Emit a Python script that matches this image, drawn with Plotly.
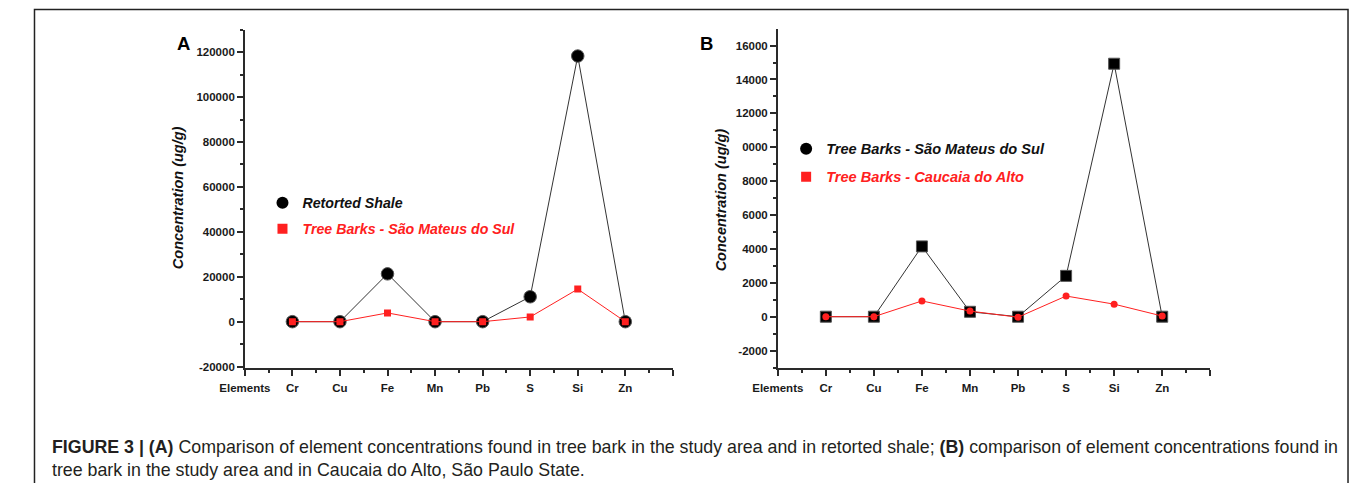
import plotly.graph_objects as go

# page body has an 8px margin: draw a figure that fits inside the window
OFF = 8
W, H = 1357 - 2 * OFF, 491 - 2 * OFF

elements = ["Cr", "Cu", "Fe", "Mn", "Pb", "S", "Si", "Zn"]
tick_labels = ["Elements"] + elements + [""]

# Panel A
a_retorted_shale = [0, 0, 21300, 0, 0, 11100, 118300, 0]
a_tree_barks_sms = [0, 0, 3900, 0, 0, 2100, 14500, 0]
# Panel B
b_tree_barks_sms = [0, 0, 4150, 290, 0, 2410, 14930, 0]
b_tree_barks_caucaia = [0, 0, 930, 330, -30, 1220, 740, 40]

a_yticks = [-20000, 0, 20000, 40000, 60000, 80000, 100000, 120000]
a_yticktext = ["-20000", "0", "20000", "40000", "60000", "80000", "100000", "120000"]
b_yticks = [-2000, 0, 2000, 4000, 6000, 8000, 10000, 12000, 14000, 16000]
b_yticktext = ["-2000", "0", "2000", "4000", "6000", "8000", "0000", "12000", "14000", "16000"]

xpos = list(range(1, len(elements) + 1))

FONT = "Liberation Sans, Arial, sans-serif"
AX = "#2a2a2a"
RED = "#ff2020"

def px_x(x):
    return (x - OFF) / W

def px_y(y):
    return 1 - (y - OFF) / H

fig = go.Figure()

# Panel A data
fig.add_trace(go.Scatter(x=xpos, y=a_retorted_shale, mode="lines+markers",
                         line=dict(color="#333333", width=1),
                         marker=dict(symbol="circle", size=12.5, color="#000000",
                                     line=dict(color="#555555", width=1)),
                         showlegend=False, xaxis="x", yaxis="y"))
fig.add_trace(go.Scatter(x=xpos, y=a_tree_barks_sms, mode="lines+markers",
                         line=dict(color=RED, width=1),
                         marker=dict(symbol="square", size=7, color=RED),
                         showlegend=False, xaxis="x", yaxis="y"))
# Panel B data
fig.add_trace(go.Scatter(x=xpos, y=b_tree_barks_sms, mode="lines+markers",
                         line=dict(color="#333333", width=1),
                         marker=dict(symbol="square", size=11, color="#000000",
                                     line=dict(color="#555555", width=1)),
                         showlegend=False, xaxis="x2", yaxis="y2"))
fig.add_trace(go.Scatter(x=xpos, y=b_tree_barks_caucaia, mode="lines+markers",
                         line=dict(color=RED, width=1),
                         marker=dict(symbol="circle", size=7, color=RED),
                         showlegend=False, xaxis="x2", yaxis="y2"))

# Legend entries
fig.add_trace(go.Scatter(x=[None], y=[None], mode="markers", name="Retorted Shale",
                         marker=dict(symbol="circle", size=12, color="#000000"),
                         legend="legend", legendgroup="a1", xaxis="x", yaxis="y"))
fig.add_trace(go.Scatter(x=[None], y=[None], mode="markers",
                         name="<span style='color:%s'>Tree Barks - São Mateus do Sul</span>" % RED,
                         marker=dict(symbol="square", size=10, color=RED),
                         legend="legend", legendgroup="a2", xaxis="x", yaxis="y"))
fig.add_trace(go.Scatter(x=[None], y=[None], mode="markers", name="Tree Barks - São Mateus do Sul",
                         marker=dict(symbol="circle", size=12, color="#000000"),
                         legend="legend2", legendgroup="b1", xaxis="x2", yaxis="y2"))
fig.add_trace(go.Scatter(x=[None], y=[None], mode="markers",
                         name="<span style='color:%s'>Tree Barks - Caucaia do Alto</span>" % RED,
                         marker=dict(symbol="square", size=10, color=RED),
                         legend="legend2", legendgroup="b2", xaxis="x2", yaxis="y2"))

tickfont = dict(family=FONT, size=11.5, color="#1a1a1a", weight="bold")

def xaxis(domain, anchor):
    return dict(domain=domain, anchor=anchor, range=[0, 9],
                tickmode="array", tickvals=list(range(0, 10)), ticktext=tick_labels,
                showgrid=False, zeroline=False, showline=True, linecolor=AX, linewidth=1.5,
                ticks="outside", ticklen=6, tickwidth=1.5, tickcolor=AX,
                ticklabelstandoff=3,
                minor=dict(tickmode="linear", tick0=0.5, dtick=1, ticklen=3, tickwidth=1.5,
                           tickcolor=AX, ticks="outside", showgrid=False),
                tickfont=tickfont, fixedrange=True)

def yaxis(domain, anchor, rng, tv, tt, dt):
    return dict(domain=domain, anchor=anchor, range=rng,
                tickmode="array", tickvals=tv, ticktext=tt,
                showgrid=False, zeroline=False, showline=True, linecolor=AX, linewidth=1.5,
                ticks="outside", ticklen=6, tickwidth=1.5, tickcolor=AX,
                minor=dict(tickmode="linear", tick0=dt / 2, dtick=dt, ticklen=3, tickwidth=1.5,
                           tickcolor=AX, ticks="outside", showgrid=False),
                tickfont=tickfont, fixedrange=True)

ya_dom = [px_y(371.7), px_y(30)]
yb_dom = [px_y(371.7), px_y(29.3)]

legfont_a = dict(family=FONT, size=14.2, color="#111111", weight="bold", style="italic")
legfont_b = dict(family=FONT, size=14.6, color="#111111", weight="bold", style="italic")

fig.update_layout(
    width=W, height=H, margin=dict(l=0, r=0, t=0, b=0),
    paper_bgcolor="white", plot_bgcolor="white",
    font=dict(family=FONT),
    xaxis=xaxis([px_x(223), px_x(659.5)], "y"),
    yaxis=yaxis(ya_dom, "x", [-20570, 130000], a_yticks, a_yticktext, 20000),
    xaxis2=xaxis([px_x(766.5), px_x(1207.5)], "y2"),
    yaxis2=yaxis(yb_dom, "x2", [-3020, 16975], b_yticks, b_yticktext, 2000),
    legend=dict(x=px_x(241), y=px_y(189), xanchor="left", yanchor="top",
                bgcolor="rgba(0,0,0,0)", borderwidth=0, tracegroupgap=4.5,
                font=legfont_a),
    legend2=dict(x=px_x(775), y=px_y(134), xanchor="left", yanchor="top",
                 bgcolor="rgba(0,0,0,0)", borderwidth=0, tracegroupgap=6,
                 font=legfont_b),
)

ann_font_title = dict(family=FONT, size=14.5, color="#111111", weight="bold", style="italic")
fig.add_annotation(text="Concentration (ug/g)", xref="paper", yref="paper",
                   x=px_x(155), y=px_y(200), textangle=-90, showarrow=False,
                   font=ann_font_title, xanchor="center", yanchor="middle")
fig.add_annotation(text="Concentration (ug/g)", xref="paper", yref="paper",
                   x=px_x(709), y=px_y(202), textangle=-90, showarrow=False,
                   font=ann_font_title, xanchor="center", yanchor="middle")
fig.add_annotation(text="<b>A</b>", xref="paper", yref="paper", x=px_x(160), y=px_y(44),
                   showarrow=False, font=dict(family=FONT, size=18.5, color="#000000"),
                   xanchor="center", yanchor="middle")
fig.add_annotation(text="<b>B</b>", xref="paper", yref="paper", x=px_x(694), y=px_y(44),
                   showarrow=False, font=dict(family=FONT, size=18.5, color="#000000"),
                   xanchor="center", yanchor="middle")

caption = ("<b>FIGURE 3 | (A)</b> Comparison of element concentrations found in tree bark in the study area "
           "and in retorted shale; <b>(B)</b> comparison of element concentrations found in<br>"
           "tree bark in the study area and in Caucaia do Alto, São Paulo State.")
fig.add_annotation(text=caption, xref="paper", yref="paper", x=px_x(24), y=px_y(463),
                   showarrow=False, align="left", xanchor="left", yanchor="middle",
                   font=dict(family=FONT, size=17.8, color="#231f20"))

# outer frame
fig.add_shape(type="rect", xref="paper", yref="paper",
              x0=px_x(8.5), x1=px_x(1348), y0=px_y(500), y1=px_y(9.5),
              line=dict(color="#222222", width=1.5), fillcolor="rgba(0,0,0,0)", layer="below")

fig.write_html("out.html")
